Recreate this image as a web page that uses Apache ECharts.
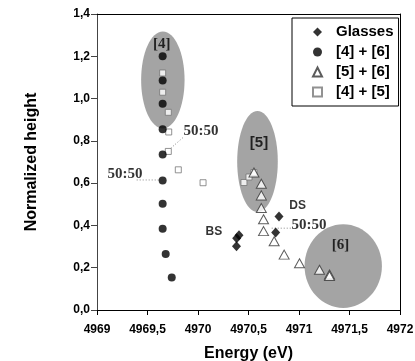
<!DOCTYPE html>
<html>
<head>
<meta charset="utf-8">
<script src="https://cdn.jsdelivr.net/npm/echarts@6/dist/echarts.min.js"></script>
<style>html,body{margin:0;padding:0;background:#fff;}#chart{width:415px;height:361px;}</style>
</head>
<body>
<div id="chart"></div>
<script>
// ---- data ----
const xTickLabels = ['4969', '4969,5', '4970', '4970,5', '4971', '4971,5', '4972'];
const yTickLabels = ['0,0', '0,2', '0,4', '0,6', '0,8', '1,0', '1,2', '1,4'];

const seriesNames = ['Glasses', '[4] + [6]', '[5] + [6]', '[4] + [5]'];

const glasses = [
  [4970.802, 0.442], [4970.769, 0.366],
  [4970.406, 0.353], [4970.383, 0.339], [4970.381, 0.302]
];
const mix46 = [
  [4969.65, 1.200], [4969.65, 1.085], [4969.65, 0.975], [4969.65, 0.855],
  [4969.65, 0.735], [4969.65, 0.612], [4969.65, 0.502], [4969.65, 0.384],
  [4969.68, 0.265], [4969.74, 0.154]
];
const mix56 = [
  [4970.554, 0.650], [4970.627, 0.597], [4970.627, 0.542], [4970.627, 0.482],
  [4970.649, 0.429], [4970.649, 0.373], [4970.754, 0.325], [4970.853, 0.262],
  [4971.005, 0.221], [4971.203, 0.190], [4971.302, 0.168], [4971.302, 0.161]
];
const mix45 = [
  [4969.65, 1.121], [4969.65, 1.030], [4969.706, 0.935], [4969.71, 0.842],
  [4969.706, 0.750], [4969.805, 0.663], [4970.05, 0.602], [4970.455, 0.603],
  [4970.505, 0.629], [4970.554, 0.650]
];

// shaded regions: [centerX, centerY, radiusX, radiusY] in data units
const regions = [
  [4969.652, 1.088, 0.215, 0.229],
  [4970.589, 0.702, 0.201, 0.239],
  [4971.438, 0.208, 0.383, 0.198]
];

// annotation texts and anchors (data units)
const annotationTexts = ['[4]', '[5]', '[6]', '50:50', '50:50', '50:50', 'BS', 'DS'];
const annotationPos = [
  [4969.64, 1.256], [4970.604, 0.791], [4971.41, 0.306],
  [4970.03, 0.848], [4969.277, 0.644], [4971.10, 0.403],
  [4970.158, 0.371], [4970.987, 0.493]
];

// dotted leader lines
const leaders = [
  [[4969.73, 0.765], [4969.85, 0.815]],
  [[4969.393, 0.615], [4969.619, 0.615]],
  [[4970.73, 0.387], [4970.928, 0.387]]
];

// ---- chart ----
const chart = echarts.init(document.getElementById('chart'), null, {renderer: 'canvas'});
const sans = 'Liberation Sans, Arial, sans-serif';
const serif = 'Liberation Serif, Times New Roman, serif';
const serifTexts = ['[4]', '[6]', '50:50'];

const annotationData = annotationTexts.map((t, i) => {
  const isSerif = serifTexts.indexOf(t) >= 0;
  return {
    value: annotationPos[i],
    label: {
      show: true,
      position: 'inside',
      formatter: t,
      fontFamily: isSerif ? serif : sans,
      fontWeight: 'bold',
      fontSize: (t === 'BS' || t === 'DS') ? 12 : 15,
      color: '#000'
    }
  };
});

const axisLabelStyle = {fontFamily: sans, fontWeight: 'bold', fontSize: 12, color: '#000'};

const option = {
  animation: false,
  backgroundColor: '#fff',
  grid: {left: 97, right: 15, top: 14, bottom: 51, containLabel: false, outerBoundsMode: 'none'},
  legend: {
    data: seriesNames,
    orient: 'vertical',
    left: 292,
    top: 18,
    padding: [4, 5, 4, 20],
    itemGap: 0,
    itemWidth: 9,
    itemHeight: 9,
    symbolKeepAspect: true,
    borderColor: '#000',
    borderWidth: 1,
    borderRadius: 0,
    backgroundColor: '#fff',
    textStyle: {fontFamily: sans, fontWeight: 'bold', fontSize: 15, color: '#000', lineHeight: 20, padding: [0, 0, 0, 9]},
    z: 20
  },
  xAxis: [{
    type: 'value',
    min: 4969, max: 4972, interval: 0.5,
    name: 'Energy (eV)',
    nameLocation: 'middle',
    nameGap: 36,
    nameTextStyle: {fontFamily: sans, fontWeight: 'bold', fontSize: 16, color: '#000'},
    axisLine: {show: true, onZero: false, lineStyle: {color: '#000', width: 1}},
    axisTick: {show: true, inside: false, length: 5, lineStyle: {color: '#000'}},
    axisLabel: Object.assign({margin: 14, formatter: (v, i) => xTickLabels[i]}, axisLabelStyle),
    splitLine: {show: false}
  }, {
    type: 'value', position: 'top',
    min: 4969, max: 4972,
    axisLine: {show: true, onZero: false, lineStyle: {color: '#000', width: 1}},
    axisTick: {show: false}, axisLabel: {show: false}, splitLine: {show: false}
  }],
  yAxis: [{
    type: 'value',
    min: 0, max: 1.4, interval: 0.2,
    name: 'Normalized height',
    nameLocation: 'middle',
    nameRotate: 90,
    nameGap: 57,
    nameTextStyle: {fontFamily: sans, fontWeight: 'bold', fontSize: 16, color: '#000'},
    axisLine: {show: true, onZero: false, lineStyle: {color: '#444', width: 1}},
    axisTick: {show: true, inside: false, length: 6, lineStyle: {color: '#444'}},
    axisLabel: Object.assign({margin: 7, formatter: (v, i) => yTickLabels[i]}, axisLabelStyle),
    splitLine: {show: false}
  }, {
    type: 'value', position: 'right',
    min: 0, max: 1.4,
    axisLine: {show: true, onZero: false, lineStyle: {color: '#000', width: 1}},
    axisTick: {show: false}, axisLabel: {show: false}, splitLine: {show: false}
  }],
  series: [
    {
      type: 'custom',
      name: 'regions',
      z: 1,
      silent: true,
      data: regions,
      encode: {x: 0, y: 1},
      renderItem: function (params, api) {
        const c = api.coord([api.value(0), api.value(1)]);
        const s = api.size([api.value(2), api.value(3)]);
        return {
          type: 'ellipse',
          shape: {cx: c[0], cy: c[1], rx: s[0], ry: s[1]},
          style: {fill: '#a4a4a4'}
        };
      }
    },
    ...leaders.map(seg => ({
      type: 'line',
      z: 2,
      silent: true,
      symbol: 'none',
      data: seg,
      lineStyle: {color: '#888', width: 1, type: [1, 2]}
    })),
    {
      name: seriesNames[3],
      type: 'scatter',
      z: 3,
      symbol: 'rect',
      symbolSize: 6,
      symbolKeepAspect: true,
      data: mix45,
      itemStyle: {color: '#fff', borderColor: '#777', borderWidth: 1}
    },
    {
      name: seriesNames[1],
      type: 'scatter',
      z: 4,
      symbol: 'circle',
      symbolSize: 8,
      symbolKeepAspect: true,
      data: mix46,
      itemStyle: {color: '#000'}
    },
    {
      name: seriesNames[2],
      type: 'scatter',
      z: 5,
      symbol: 'triangle',
      symbolSize: [10, 9],
      data: mix56,
      itemStyle: {color: '#fff', borderColor: '#333', borderWidth: 1}
    },
    {
      name: seriesNames[0],
      type: 'scatter',
      z: 6,
      symbol: 'diamond',
      symbolSize: [9, 10],
      data: glasses,
      itemStyle: {color: '#000'}
    },
    {
      type: 'scatter',
      name: 'annotations',
      z: 7,
      silent: true,
      symbolSize: 0,
      data: annotationData
    }
  ]
};
chart.setOption(option);
</script>
</body>
</html>
